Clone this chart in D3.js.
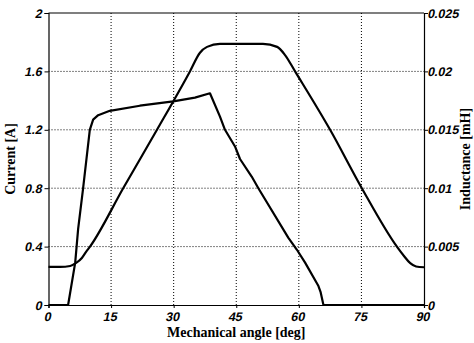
<!DOCTYPE html>
<html>
<head>
<meta charset="utf-8">
<script src="https://cdn.jsdelivr.net/npm/d3@7/dist/d3.min.js"></script>
<style>
  body { margin: 0; background: #fff; }
  svg { display: block; }
  .tick text { font-family: "Liberation Sans", Arial, sans-serif; font-weight: bold; font-size: 12.5px; fill: #000; }
  .title { font-family: "Liberation Serif", "Times New Roman", serif; font-weight: bold; font-size: 14px; fill: #000; }
</style>
</head>
<body>
<div id="chart"></div>
<script>
// angle [deg], current [A]
const currentAngle = [0, 4.7, 6.4, 7.1, 8.3, 9.9, 10.7, 11.9, 14.7, 21.9, 29.9, 35.1, 38.7, 41.1, 42.3, 44.7, 45.9, 48.7, 50.3, 57.5, 59.5, 61.5, 64.7, 65.2, 65.9, 90];
const currentValue = [0, 0, 0.29, 0.52, 0.8, 1.2, 1.27, 1.30, 1.33, 1.365, 1.395, 1.42, 1.45, 1.29, 1.2, 1.086, 1.0, 0.88, 0.8, 0.46, 0.38, 0.29, 0.13, 0.09, 0, 0];

// angle [deg], inductance [mH]
const inductAngle = [0, 2.8, 5.2, 6.6, 8.0, 9.0, 9.95, 17.9, 26.0, 33.9, 36.3, 38.0, 41.1, 51.4, 54.8, 56.7, 59.1, 67.5, 75.1, 83.5, 85.2, 86.7, 88.1, 90];
const inductValue = [0.00326, 0.00326, 0.00334, 0.0036, 0.00403, 0.00455, 0.005, 0.01, 0.015, 0.02, 0.0216, 0.0221, 0.02236, 0.02236, 0.0221, 0.0214, 0.02, 0.015, 0.01, 0.005, 0.0042, 0.00358, 0.0033, 0.00323];

const xTicks = [0, 15, 30, 45, 60, 75, 90];
const yLeftTicks = [0, 0.4, 0.8, 1.2, 1.6, 2];
const yRightTicks = [0, 0.005, 0.01, 0.015, 0.02, 0.025];

const width = 474, height = 343;
const margin = { top: 13, right: 50, bottom: 38, left: 48.5 };
const innerWidth = width - margin.left - margin.right;
const innerHeight = height - margin.top - margin.bottom;

const svg = d3.select('#chart')
  .append('svg')
  .attr('width', width)
  .attr('height', height)
  .append('g')
  .attr('transform', `translate(${margin.left},${margin.top})`);

const x = d3.scaleLinear().domain([0, 90]).range([0, innerWidth]);
const yL = d3.scaleLinear().domain([0, 2]).range([innerHeight, 0]);
const yR = d3.scaleLinear().domain([0, 0.025]).range([innerHeight, 0]);

// dotted grid
svg.append('g')
  .selectAll('line')
  .data(xTicks.slice(1, -1))
  .enter().append('line')
  .attr('x1', d => x(d)).attr('x2', d => x(d))
  .attr('y1', 0).attr('y2', innerHeight)
  .attr('stroke', '#000').attr('stroke-width', 1).attr('stroke-dasharray', '1,2');

svg.append('g')
  .selectAll('line')
  .data(yLeftTicks.slice(1, -1))
  .enter().append('line')
  .attr('x1', 0).attr('x2', innerWidth)
  .attr('y1', d => yL(d)).attr('y2', d => yL(d))
  .attr('stroke', '#000').attr('stroke-width', 1).attr('stroke-dasharray', '1,2');

// axes
const fmtR = d => d === 0 ? '0' : String(d);
svg.append('g')
  .attr('transform', `translate(0,${innerHeight})`)
  .call(d3.axisBottom(x).tickValues(xTicks).tickSize(3).tickPadding(4).tickFormat(d3.format('d')));

svg.append('g')
  .call(d3.axisLeft(yL).tickValues(yLeftTicks).tickSize(4).tickPadding(2).tickFormat(d => String(d)));

svg.append('g')
  .attr('transform', `translate(${innerWidth},0)`)
  .call(d3.axisRight(yR).tickValues(yRightTicks).tickSize(4).tickPadding(0).tickFormat(fmtR));

svg.selectAll('.domain').attr('stroke', '#000').attr('stroke-width', 1.2);
svg.selectAll('.tick line').attr('stroke', '#000');

// slanted tick labels (oblique look of the original)
svg.selectAll('.tick text').each(function() {
  const t = d3.select(this);
  const tx = +t.attr('x') || 0, ty = +t.attr('y') || 0;
  t.attr('transform', `translate(${tx},${ty}) skewX(-12) translate(${-tx},${-ty})`);
});

// top frame
svg.append('line')
  .attr('x1', 0).attr('x2', innerWidth).attr('y1', 0).attr('y2', 0)
  .attr('stroke', '#000').attr('stroke-width', 1.2);

// curves
const currentData = currentAngle.map((a, i) => ({ a, v: currentValue[i] }));
const inductData = inductAngle.map((a, i) => ({ a, v: inductValue[i] }));

svg.append('path')
  .datum(inductData)
  .attr('fill', 'none')
  .attr('stroke', '#000')
  .attr('stroke-width', 2.2)
  .attr('stroke-linejoin', 'round')
  .attr('d', d3.line().x(d => x(d.a)).y(d => yR(d.v)).curve(d3.curveMonotoneX));

svg.append('path')
  .datum(currentData)
  .attr('fill', 'none')
  .attr('stroke', '#000')
  .attr('stroke-width', 2.2)
  .attr('stroke-linejoin', 'round')
  .attr('d', d3.line().x(d => x(d.a)).y(d => yL(d.v)));

// titles
svg.append('text')
  .attr('class', 'title')
  .attr('x', innerWidth / 2)
  .attr('y', innerHeight + 32)
  .attr('text-anchor', 'middle')
  .text('Mechanical angle [deg]');

svg.append('text')
  .attr('class', 'title')
  .attr('transform', `translate(-34,${innerHeight / 2}) rotate(-90)`)
  .attr('text-anchor', 'middle')
  .text('Current [A]');

svg.append('text')
  .attr('class', 'title')
  .attr('transform', `translate(${innerWidth + 46},${innerHeight / 2}) rotate(-90)`)
  .attr('text-anchor', 'middle')
  .text('Inductance [mH]');
</script>
</body>
</html>
